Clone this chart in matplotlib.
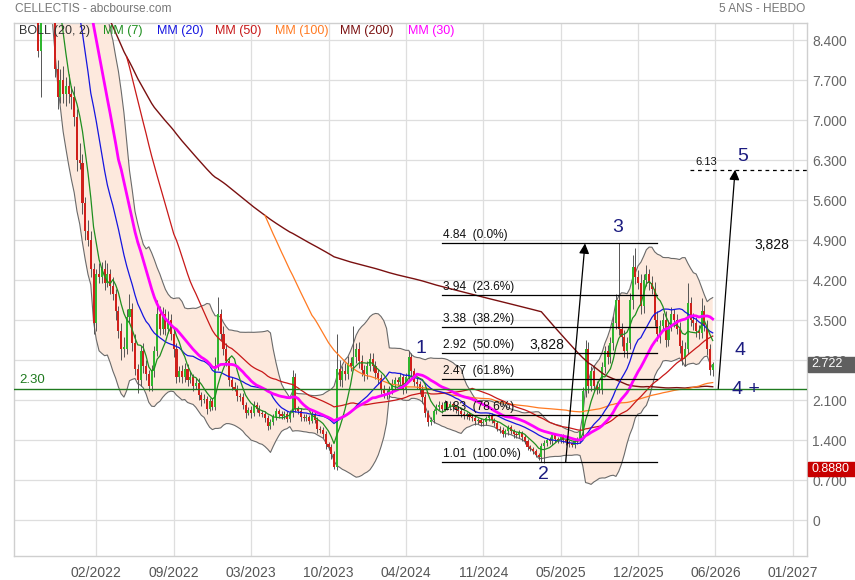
import numpy as np
import pandas as pd
import matplotlib
matplotlib.use("Agg")
import matplotlib.pyplot as plt
import matplotlib.transforms as mtransforms
from matplotlib.patches import Rectangle

# weekly closes, first value is week -8 (just before the visible window)
first_week = -8
close = [
    12.6, 12.9, 12.4, 12.2, 12.7, 12.3, 12.0, 12.4, 12.1, 11.8,   # -8..1
    12.2, 11.9, 12.1, 11.6, 11.9, 11.5, 11.8, 8.2, 9.5, 10.0,     # 2..11
    10.2, 9.8, 9.3, 7.9, 7.4, 7.7, 7.45, 7.6, 7.45, 7.4,          # 12..21
    7.05, 6.3, 6.25, 5.55, 5.05, 4.9, 4.4, 3.45, 4.3, 4.25,       # 22..31
    4.4, 4.15, 4.3, 4.1, 3.95, 3.65, 3.3, 3.0, 3.0, 3.55,         # 32..41
    3.7, 3.1, 2.65, 2.45, 2.95, 2.7, 2.55, 2.35, 2.6, 2.95,       # 42..51
    3.6, 3.35, 3.6, 3.35, 3.5, 3.25, 3.0, 2.5, 2.6, 2.5,          # 52..61
    2.65, 2.45, 2.5, 2.35, 2.4, 2.18, 2.1, 2.12, 1.95, 2.08,      # 62..71
    1.98, 2.7, 3.6, 3.25, 3.0, 2.78, 2.45, 2.33, 2.3, 2.17,       # 72..81
    2.15, 2.02, 1.88, 1.92, 1.87, 2.02, 1.95, 1.88, 1.85, 1.78,   # 82..91
    1.65, 1.72, 1.8, 1.9, 1.85, 1.82, 1.85, 1.77, 1.87, 2.5,      # 92..101
    1.95, 1.9, 1.8, 1.78, 1.8, 1.74, 1.85, 1.75, 1.6, 1.58,       # 102..111
    1.5, 1.33, 1.28, 1.15, 0.93, 2.65, 2.45, 2.6, 2.55, 2.75,     # 112..121
    2.7, 2.85, 3.0, 2.78, 2.62, 2.55, 2.7, 2.82, 2.7, 2.58,       # 122..131
    2.48, 2.3, 2.22, 2.2, 2.28, 2.38, 2.45, 2.42, 2.5, 2.3,       # 132..141
    2.5, 2.85, 2.6, 2.42, 2.38, 2.3, 2.15, 1.88, 1.72, 1.75,      # 142..151
    1.9, 1.98, 2.02, 1.95, 2.05, 1.98, 2.03, 1.97, 1.93, 1.9,     # 152..161
    1.85, 1.82, 1.85, 1.8, 1.78, 1.73, 1.75, 1.7, 1.72, 1.78,     # 162..171
    1.82, 1.75, 1.7, 1.6, 1.58, 1.5, 1.55, 1.62, 1.55, 1.5,       # 172..181
    1.48, 1.52, 1.45, 1.38, 1.28, 1.25, 1.2, 1.14, 1.1, 1.3,      # 182..191
    1.35, 1.4, 1.38, 1.48, 1.42, 1.4, 1.46, 1.4, 1.36, 1.33,      # 192..201
    1.32, 1.38, 1.4, 1.55, 2.25, 3.0, 2.35, 2.6, 2.35, 2.3,       # 202..211
    2.3, 2.68, 2.95, 2.85, 3.1, 3.45, 3.85, 3.35, 3.2, 2.95,      # 212..221
    3.1, 3.85, 4.43, 4.25, 4.15, 3.75, 4.2, 4.3, 4.15, 4.05,      # 222..231
    3.5, 3.25, 3.4, 3.5, 3.15, 3.4, 3.6, 3.5, 3.35, 3.05,         # 232..241
    2.82, 3.0, 3.8, 3.5, 3.45, 3.3, 3.28, 3.65, 3.4, 3.0,         # 242..251
    2.63, 2.722,                                                  # 252..253
]
# shadow above / below the body of each weekly candle
wick_up = [
    0.3, 0.3, 0.3, 0.3, 0.3, 0.3, 0.3, 0.3, 0.3, 0.3,
    0.3, 0.3, 0.3, 0.3, 0.3, 0.3, 0.3, 0.2, 0.3, 0.3,
    0.3, 0.3, 0.3, 0.2, 0.15, 0.2, 0.25, 0.15, 0.2, 0.15,
    0.2, 0.15, 0.3, 0.15, 0.1, 0.2, 0.15, 0.1, 0.1, 0.2,
    0.12, 0.15, 0.2, 0.1, 0.15, 0.1, 0.1, 0.15, 0.2, 0.15,
    0.25, 0.1, 0.15, 0.08, 0.1, 0.15, 0.1, 0.08, 0.12, 0.1,
    0.25, 0.15, 0.12, 0.1, 0.15, 0.1, 0.12, 0.1, 0.1, 0.12,
    0.1, 0.08, 0.1, 0.06, 0.08, 0.08, 0.06, 0.08, 0.05, 0.06,
    0.06, 0.15, 0.3, 0.1, 0.15, 0.1, 0.08, 0.06, 0.08, 0.06,
    0.06, 0.08, 0.05, 0.06, 0.08, 0.06, 0.05, 0.06, 0.05, 0.05,
    0.06, 0.05, 0.05, 0.06, 0.05, 0.05, 0.06, 0.05, 0.05, 0.12,
    0.08, 0.05, 0.06, 0.05, 0.05, 0.04, 0.06, 0.05, 0.05, 0.05,
    0.05, 0.05, 0.04, 0.05, 0.05, 0.6, 0.15, 0.1, 0.15, 0.12,
    0.1, 0.55, 0.1, 0.12, 0.1, 0.1, 0.08, 0.1, 0.1, 0.08,
    0.06, 0.08, 0.06, 0.06, 0.06, 0.08, 0.06, 0.06, 0.08, 0.06,
    0.08, 0.1, 0.08, 0.06, 0.06, 0.05, 0.06, 0.05, 0.05, 0.05,
    0.05, 0.05, 0.06, 0.05, 0.05, 0.04, 0.05, 0.04, 0.04, 0.05,
    0.04, 0.05, 0.04, 0.04, 0.04, 0.05, 0.04, 0.04, 0.05, 0.04,
    0.04, 0.05, 0.04, 0.04, 0.05, 0.04, 0.04, 0.04, 0.05, 0.04,
    0.04, 0.05, 0.04, 0.04, 0.04, 0.04, 0.03, 0.04, 0.04, 0.04,
    0.05, 0.04, 0.05, 0.04, 0.05, 0.04, 0.04, 0.05, 0.04, 0.04,
    0.04, 0.04, 0.05, 0.06, 0.08, 0.15, 0.12, 0.1, 0.12, 0.08,
    0.1, 0.08, 0.1, 0.12, 0.1, 0.12, 0.1, 0.99, 0.1, 0.12,
    0.1, 0.12, 0.2, 0.33, 0.12, 0.15, 0.1, 0.16, 0.1, 0.12,
    0.12, 0.15, 0.1, 0.12, 0.15, 0.1, 0.12, 0.1, 0.1, 0.12,
    0.1, 0.12, 0.35, 0.1, 0.12, 0.1, 0.12, 0.24, 0.12, 0.1,
    0.08, 0.05,
]
wick_dn = [
    0.3, 0.3, 0.3, 0.3, 0.3, 0.3, 0.3, 0.3, 0.3, 0.3,
    0.3, 0.3, 0.3, 0.3, 0.3, 0.3, 0.3, 0.1, 0.8, 0.3,
    0.3, 0.3, 0.2, 0.15, 0.2, 0.1, 0.15, 0.2, 0.15, 0.2,
    0.15, 0.2, 0.1, 0.2, 0.15, 0.1, 0.15, 0.2, 0.15, 0.1,
    0.1, 0.12, 0.08, 0.15, 0.1, 0.15, 0.12, 0.2, 0.15, 0.1,
    0.1, 0.15, 0.12, 0.23, 0.1, 0.12, 0.1, 0.1, 0.1, 0.1,
    0.08, 0.12, 0.1, 0.12, 0.08, 0.1, 0.15, 0.1, 0.08, 0.1,
    0.08, 0.1, 0.06, 0.1, 0.06, 0.08, 0.1, 0.06, 0.1, 0.05,
    0.06, 0.05, 0.08, 0.1, 0.12, 0.08, 0.1, 0.06, 0.05, 0.08,
    0.06, 0.08, 0.1, 0.05, 0.08, 0.05, 0.06, 0.06, 0.05, 0.06,
    0.08, 0.05, 0.05, 0.05, 0.06, 0.05, 0.05, 0.06, 0.05, 0.06,
    0.06, 0.05, 0.06, 0.05, 0.05, 0.06, 0.05, 0.06, 0.08, 0.06,
    0.06, 0.08, 0.06, 0.08, 0.04, 0.05, 0.1, 0.12, 0.1, 0.08,
    0.1, 0.08, 0.1, 0.12, 0.1, 0.12, 0.08, 0.1, 0.1, 0.12,
    0.1, 0.1, 0.08, 0.08, 0.06, 0.08, 0.1, 0.06, 0.08, 0.1,
    0.08, 0.08, 0.1, 0.08, 0.08, 0.1, 0.1, 0.08, 0.08, 0.05,
    0.06, 0.05, 0.06, 0.08, 0.05, 0.06, 0.05, 0.06, 0.05, 0.06,
    0.05, 0.05, 0.06, 0.05, 0.05, 0.06, 0.05, 0.05, 0.06, 0.05,
    0.05, 0.05, 0.06, 0.05, 0.05, 0.05, 0.05, 0.06, 0.05, 0.06,
    0.05, 0.05, 0.06, 0.05, 0.06, 0.05, 0.05, 0.04, 0.05, 0.08,
    0.3, 0.06, 0.05, 0.06, 0.05, 0.05, 0.06, 0.05, 0.05, 0.05,
    0.05, 0.06, 0.05, 0.06, 0.1, 0.1, 0.12, 0.1, 0.1, 0.1,
    0.08, 0.1, 0.1, 0.12, 0.1, 0.12, 0.1, 0.12, 0.15, 0.1,
    0.12, 0.1, 0.15, 0.12, 0.1, 0.15, 0.12, 0.1, 0.12, 0.1,
    0.1, 0.12, 0.15, 0.1, 0.12, 0.1, 0.1, 0.12, 0.1, 0.12,
    0.1, 0.12, 0.1, 0.1, 0.12, 0.1, 0.12, 0.1, 0.1, 0.12,
    0.1, 0.11,
]

xtick_weeks = [30, 58, 86, 114, 142, 170, 198, 226, 254, 282]
xtick_labels = ["02/2022", "09/2022", "03/2023", "10/2023", "04/2024",
                "11/2024", "05/2025", "12/2025", "06/2026", "01/2027"]

fib_levels = [4.84, 3.94, 3.38, 2.92, 2.47, 1.83, 1.01]
fib_pct = ["0.0%", "23.6%", "38.2%", "50.0%", "61.8%", "78.6%", "100.0%"]
fib_start, fib_end = 155.1, 232.8

support = 2.30
target = 6.13
wave_len = "3,828"
last_price = 2.722
low_5y = 0.8880

waves = [("1", 147.5, 3.0), ("2", 191.6, 0.79), ("3", 218.7, 5.12),
         ("4", 262.9, 2.96), ("4 +", 264.9, 2.29), ("5", 263.7, 6.37)]
arrows = [((199.8, 1.01), (206.8, 4.84)), ((255.0, 2.30), (261.1, 6.13))]
len_labels = [(193.1, 3.06), (274.3, 4.81)]

legend = [("BOLL (20, 2)", "#333333"), ("MM (7)", "#1f8f1f"), ("MM (20)", "#1515e0"),
          ("MM (50)", "#c81818"), ("MM (100)", "#ff7a22"), ("MM (200)", "#7a1010"),
          ("MM (30)", "#ff00ff")]
legend_px = [19, 103, 157, 215, 275, 340, 408]

# ---------------------------------------------------------------
plt.rcParams['font.family'] = ['Liberation Sans', 'DejaVu Sans']
narrow = ['Liberation Sans Narrow', 'Liberation Sans', 'DejaVu Sans']

W, H = 855, 580
L, R, T, B = 14.3, 806.7, 22.5, 556
fig = plt.figure(figsize=(W / 100, H / 100), dpi=100)
ax = fig.add_axes([L / W, 1 - B / H, (R - L) / W, (B - T) / H])

s = pd.Series(close)
weeks = np.arange(first_week, first_week + len(close))
c = np.array(close)
o = np.r_[c[0], c[:-1]]
hi = np.maximum(o, c) + np.array(wick_up)
lo = np.minimum(o, c) - np.array(wick_dn)

mid = s.rolling(20).mean()
sd = s.rolling(20).std(ddof=0)
upper, lower = mid + 2 * sd, mid - 2 * sd

ax.fill_between(weeks, lower, upper, color="#fde9dd", lw=0, zorder=1)
ax.plot(weeks, upper, color="#6a6a6a", lw=0.8, zorder=2)
ax.plot(weeks, lower, color="#6a6a6a", lw=0.8, zorder=2)

# candles
up = c >= o
ax.vlines(weeks, lo, hi, color="#555555", lw=0.7, zorder=3)
body = np.maximum(np.abs(c - o), 0.02)
ax.bar(weeks, body, bottom=np.minimum(o, c), width=0.75,
       color=np.where(up, "#2fb62f", "#d0201b"), lw=0, zorder=3)

# moving averages
ax.plot(weeks, s.rolling(200, min_periods=1).mean(), color="#7a1010", lw=1.0, zorder=4)
ax.plot(weeks, s.rolling(100).mean(), color="#ff7a22", lw=0.9, zorder=4)
ax.plot(weeks, s.rolling(50).mean(), color="#c81818", lw=0.9, zorder=4)
ax.plot(weeks, mid, color="#1515e0", lw=0.9, zorder=4)
ax.plot(weeks, s.rolling(7).mean(), color="#1f8f1f", lw=0.9, zorder=4)
ax.plot(weeks, s.rolling(30).mean(), color="#ff00ff", lw=2.0, zorder=4)

# fibonacci retracement
for lv, p in zip(fib_levels, fib_pct):
    ax.plot([fib_start, fib_end], [lv, lv], color="black", lw=0.9, zorder=5)
    ax.annotate(f"{lv:.2f}  ({p})", (fib_start + 0.2, lv), xytext=(0, 1.5),
                textcoords="offset points", fontsize=8.6, color="#111111",
                va="bottom", ha="left", zorder=6)

# support line and target
ax.axhline(support, color="#1f7a1f", lw=1.0, zorder=5)
ax.annotate(f"{support:.2f}", (2.0, support), xytext=(0, 1.5), textcoords="offset points",
            fontsize=9.5, color="#1f7a1f", va="bottom", ha="left")
ax.plot([244.8, 287], [target, target], color="black", lw=0.9, ls=(0, (3, 3)), zorder=5)
ax.annotate(f"{target:.2f}", (250.8, target), xytext=(0, 2), textcoords="offset points",
            fontsize=8, color="#111111", va="bottom", ha="center")

for (x0, y0), (x1, y1) in arrows:
    ax.annotate("", xy=(x1, y1), xytext=(x0, y0),
                arrowprops=dict(arrowstyle="-|>", color="black", lw=0.9,
                                mutation_scale=15, shrinkA=0, shrinkB=0), zorder=6)
for x, y in len_labels:
    ax.text(x, y, wave_len, fontsize=10, color="#111111", ha="center", va="center", zorder=6)

for t, x, y in waves:
    ax.text(x, y, t, fontsize=14, color="#1c1c80", ha="center", va="center", zorder=6)

# axes look
ax.set_xlim(0.33, 287.0)
ax.set_ylim((520 - B) / 57.14, (520 - T) / 57.14)
yt = np.arange(0, 8.41, 0.7)
ax.set_yticks(yt)
ax.set_yticklabels(["0" if v == 0 else f"{v:.3f}" for v in yt], fontfamily=narrow)
ax.yaxis.tick_right()
ax.set_xticks(xtick_weeks)
ax.set_xticklabels(xtick_labels, fontfamily=narrow)
ax.tick_params(axis="y", length=0, pad=4, labelsize=10, labelcolor="#666666")
ax.tick_params(axis="x", length=0, pad=7, labelsize=10, labelcolor="#555555")
ax.grid(True, color="#dedede", lw=0.9)
ax.set_axisbelow(True)
for sp in ax.spines.values():
    sp.set_color("#cfcfcf")
    sp.set_linewidth(1.0)

for (txt, col), px in zip(legend, legend_px):
    ax.text((px - L) / (R - L), (B - 30.7) / (B - T), txt, transform=ax.transAxes,
            fontsize=9, color=col, va="center", ha="left", zorder=7)

fig.text(15 / W, 1 - 8.5 / H, "CELLECTIS - abcbourse.com", fontsize=8.6,
         color="#777777", va="center", ha="left")
fig.text(805 / W, 1 - 8.5 / H, "5 ANS - HEBDO", fontsize=8.6,
         color="#777777", va="center", ha="right")

# price badges on the right scale
tr = mtransforms.blended_transform_factory(fig.transFigure, ax.transData)
for val, txt, col in [(last_price, f"{last_price:.3f}", "#5f5f5f"),
                      (low_5y, f"{low_5y:.4f}", "#c80000")]:
    ax.add_patch(Rectangle((808 / W, val - 0.125), 1 - 808 / W, 0.25, transform=tr,
                           color=col, clip_on=False, zorder=10))
    ax.text(811 / W, val, txt, transform=tr, fontsize=9, color="white",
            va="center", ha="left", zorder=11, clip_on=False)

fig.savefig("out.png", dpi=100)
